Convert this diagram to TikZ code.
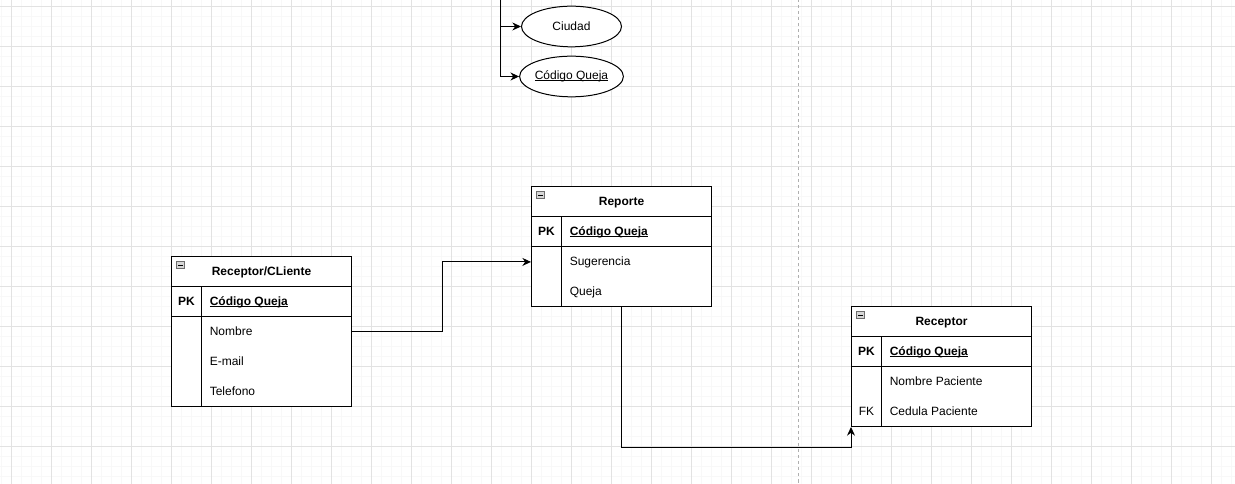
\documentclass[tikz,border=0pt]{standalone}
\usepackage{fontspec}
\setmainfont{Liberation Sans}
\usetikzlibrary{shapes.geometric,arrows.meta}
\definecolor{gminor}{RGB}{248,248,248}
\definecolor{gmajor}{RGB}{226,226,226}
\definecolor{dashc}{RGB}{175,175,175}
\definecolor{iconfill}{RGB}{215,215,215}
\definecolor{iconline}{RGB}{110,110,110}
\newcommand\ulkey[1]{\setbox0\hbox{#1}\rlap{\rule[-1.3pt]{\wd0}{0.75pt}}\box0}
\begin{document}
\begin{tikzpicture}[x=0.75pt,y=-0.75pt,
  font=\fontsize{9}{11}\selectfont,
  tbl/.style={draw=black, fill=white, line width=0.75pt, minimum width=135pt, inner sep=0pt},
  sepline/.style={draw=black, line width=0.75pt},
  title/.style={font=\fontsize{9}{11}\selectfont\bfseries, anchor=mid, inner sep=0pt},
  keytxt/.style={font=\fontsize{9}{11}\selectfont\bfseries, anchor=mid, inner sep=0pt},
  fktxt/.style={anchor=mid, inner sep=0pt},
  field/.style={anchor=mid west, inner sep=0pt},
  pkfield/.style={anchor=mid west, inner sep=0pt, font=\fontsize{9}{11}\selectfont\bfseries},
  attr/.style={ellipse, draw=black, fill=white, line width=0.75pt, minimum width=75pt, minimum height=30.5pt, inner sep=0pt},
  conn/.style={draw=black, line width=0.75pt, -{Stealth[length=6.5pt,width=6pt]}},
  collapse/.style={draw=iconline, fill=iconfill, minimum width=6pt, minimum height=5.5pt, inner sep=0pt, line width=0.4pt,
    path picture={\draw[black, line width=0.6pt] ([xshift=-1.6pt]path picture bounding box.center) -- ([xshift=1.6pt]path picture bounding box.center);}}
]
\useasboundingbox (0,0) rectangle (1235,484);
\fill[white] (0,0) rectangle (1235,484);
\begin{scope}[shift={(0.5,0.5)}]
% grid
\foreach \x in {1,11,...,1231} \draw[gminor, line width=0.75pt] (\x,-1) -- (\x,485);
\foreach \y in {6,16,...,476} \draw[gminor, line width=0.75pt] (-1,\y) -- (1236,\y);
\foreach \x in {11,51,...,1211} \draw[gmajor, line width=0.75pt] (\x,-1) -- (\x,485);
\foreach \y in {6,46,...,446} \draw[gmajor, line width=0.75pt] (-1,\y) -- (1236,\y);
% page break line
\draw[dashc, line width=0.75pt, dash pattern=on 2.25pt off 2.25pt] (798,-1) -- (798,485);

% attributes at top
\node[attr] (ciudad) at (571,26) {Ciudad};
\node[attr] (codq) at (571,76) {\ulkey{Código Queja}};
\coordinate (src) at (500,-2);
\draw[conn] (src) |- (ciudad.west);
\draw[conn] (src) |- (codq.west);

% Table Receptor/CLiente
\node[tbl, minimum height=112.5pt] (rc) at (261,331) {};
\draw[sepline] (171,286) -- (351,286);
\draw[sepline] (171,316) -- (351,316);
\draw[sepline] (201,286) -- (201,406);
\node[collapse] (rcIcon) at (180,264.5) {};
\node[title] (rcTitle) at (261,271) {Receptor/CLiente};
\node[keytxt] (rcPK) at (186,301) {PK};
\node[pkfield] (rcCod) at (209,301) {\ulkey{Código Queja}};
\node[field] (rcNombre) at (209,331) {Nombre};
\node[field] (rcMail) at (209,361) {E-mail};
\node[field] (rcTel) at (209,391) {Telefono};

% Table Reporte
\node[tbl, minimum height=90pt] (rep) at (621,246) {};
\draw[sepline] (531,216) -- (711,216);
\draw[sepline] (531,246) -- (711,246);
\draw[sepline] (561,216) -- (561,306);
\node[collapse] (repIcon) at (540,194.5) {};
\node[title] (repTitle) at (621,201) {Reporte};
\node[keytxt] (repPK) at (546,231) {PK};
\node[pkfield] (repCod) at (569,231) {\ulkey{Código Queja}};
\node[field] (repSug) at (569,261) {Sugerencia};
\node[field] (repQueja) at (569,291) {Queja};

% Table Receptor
\node[tbl, minimum height=90pt] (rcp) at (941,366) {};
\draw[sepline] (851,336) -- (1031,336);
\draw[sepline] (851,366) -- (1031,366);
\draw[sepline] (881,336) -- (881,426);
\node[collapse] (rcpIcon) at (860,314.5) {};
\node[title] (rcpTitle) at (941,321) {Receptor};
\node[keytxt] (rcpPK) at (866,351) {PK};
\node[pkfield] (rcpCod) at (889,351) {\ulkey{Código Queja}};
\node[field] (rcpNom) at (889,381) {Nombre Paciente};
\node[fktxt] (rcpFK) at (866,411) {FK};
\node[field] (rcpCed) at (889,411) {Cedula Paciente};

% connectors
\draw[conn] (rc.east) -- ++(90,0) |- (rep.west |- repSug);
\draw[conn] (rep.south) -- ++(0,140) -| (rcp.south west);
\end{scope}
\end{tikzpicture}
\end{document}
